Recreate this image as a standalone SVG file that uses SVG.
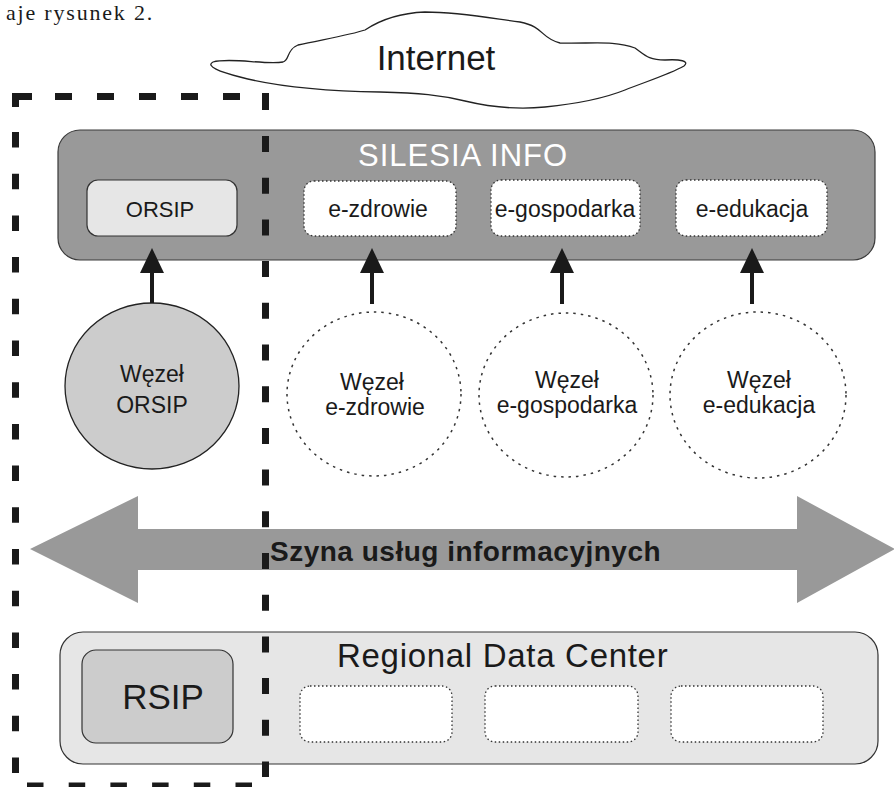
<svg xmlns="http://www.w3.org/2000/svg" width="894" height="787" viewBox="0 0 894 787">
<style>
text{font-family:"Liberation Sans",Arial,sans-serif;fill:#1a1a1a}
.dot{fill:#fff;stroke:#333;stroke-width:1.3;stroke-dasharray:1.5 2.5}
.dcirc{fill:#fff;stroke:#333;stroke-width:1.5;stroke-dasharray:2.5 5}
.frame{stroke:#1a1a1a;stroke-width:7;fill:none}
.conn{stroke:#1a1a1a;stroke-width:4;fill:none}
.lbl{font-size:23px;text-anchor:middle}
.node{font-size:23px;text-anchor:middle}
</style>
<defs>
<marker id="ah" viewBox="0 0 25 24" refX="21" refY="12" markerWidth="25" markerHeight="24" markerUnits="userSpaceOnUse" orient="auto">
<path d="M0,0 L25,12 L0,24 Z" fill="#1a1a1a"/>
</marker>
</defs>
<rect width="894" height="787" fill="#fff"/>
<text x="6" y="20" style="font-family:'Liberation Serif','Times New Roman',serif;font-size:22px;letter-spacing:1.8px">aje rysunek 2.</text>

<g id="internet">
<path d="M213,62 C230,57 265,65 283,62 C290,60 286,50 298,45 C320,40 350,35 365,30 C380,20 400,13 425,12 C460,12 490,18 520,22 C545,27 540,38 560,43 C590,44 615,40 635,48 C645,55 648,60 665,60 C680,59 690,61 684,66 C670,74 645,82 625,90 C605,98 575,104 545,107 C515,110 490,107 465,101 C440,95 420,93 380,92 C320,91 270,85 240,77 C220,72 205,66 213,62 Z" fill="#fff" stroke="#222" stroke-width="1.3"/>
<text x="436" y="70" style="font-size:35px;text-anchor:middle">Internet</text>
</g>

<g id="silesia-info">
<rect x="58" y="130" width="817" height="130" rx="22" fill="#999" stroke="#3a3a3a" stroke-width="1.2"/>
<text x="358" y="166" style="font-size:31px;letter-spacing:1px;fill:#fff">SILESIA INFO</text>
</g>
<g id="orsip">
<rect x="87" y="180" width="150" height="56" rx="11" fill="#e6e6e6" stroke="#333" stroke-width="1.2"/>
<text x="160" y="217" style="font-size:22px;text-anchor:middle">ORSIP</text>
</g>
<g id="e-zdrowie">
<rect class="dot" x="304" y="181" width="152" height="55" rx="10"/>
<text class="lbl" x="378" y="217">e-zdrowie</text>
</g>
<g id="e-gospodarka">
<rect class="dot" x="491" y="180" width="149" height="56" rx="10"/>
<text class="lbl" x="565" y="217">e-gospodarka</text>
</g>
<g id="e-edukacja">
<rect class="dot" x="676" y="180" width="151" height="56" rx="10"/>
<text class="lbl" x="752" y="217">e-edukacja</text>
</g>

<g id="wezel-orsip">
<ellipse cx="152" cy="386" rx="87" ry="83" fill="#ccc" stroke="#222" stroke-width="1.3"/>
<text class="node" x="152" y="382">Węzeł</text>
<text class="node" x="152" y="413">ORSIP</text>
</g>
<g id="wezel-e-zdrowie">
<ellipse class="dcirc" cx="374" cy="394" rx="87" ry="82"/>
<text class="node" x="372" y="390">Węzeł</text>
<text class="node" x="375" y="415">e-zdrowie</text>
</g>
<g id="wezel-e-gospodarka">
<ellipse class="dcirc" cx="566" cy="395" rx="87" ry="82"/>
<text class="node" x="567" y="388">Węzeł</text>
<text class="node" x="567" y="413">e-gospodarka</text>
</g>
<g id="wezel-e-edukacja">
<ellipse class="dcirc" cx="758" cy="395" rx="88" ry="83"/>
<text class="node" x="759" y="388">Węzeł</text>
<text class="node" x="759" y="413">e-edukacja</text>
</g>

<g id="connectors">
<line class="conn" x1="152" y1="303" x2="152" y2="252" marker-end="url(#ah)"/>
<line class="conn" x1="372" y1="304" x2="372" y2="252" marker-end="url(#ah)"/>
<line class="conn" x1="562" y1="304" x2="562" y2="252" marker-end="url(#ah)"/>
<line class="conn" x1="752" y1="304" x2="752" y2="252" marker-end="url(#ah)"/>
</g>

<g id="bus">
<polygon points="30,549 138,496 138,529 797,529 797,496 895,549 797,603 797,570 138,570 138,603" fill="#999"/>
<text x="270" y="561" style="font-size:28px;font-weight:bold;letter-spacing:0.5px">Szyna usług informacyjnych</text>
</g>

<g id="regional-data-center">
<rect x="60" y="632" width="818" height="132" rx="23" fill="#e6e6e6" stroke="#333" stroke-width="1.2"/>
<text x="337" y="667" style="font-size:33px;letter-spacing:0.7px">Regional Data Center</text>
<rect class="dot" x="300" y="686" width="152" height="56" rx="10"/>
<rect class="dot" x="485" y="686" width="153" height="56" rx="10"/>
<rect class="dot" x="671" y="686" width="152" height="56" rx="10"/>
</g>
<g id="rsip">
<rect x="82" y="650" width="151" height="93" rx="14" fill="#ccc" stroke="#333" stroke-width="1.2"/>
<text x="163" y="709" style="font-size:35px;text-anchor:middle">RSIP</text>
</g>

<g id="orsip-boundary">
<path d="M12,96.5 H32 M15.5,93 V107" class="frame"/>
<line class="frame" x1="55" y1="96.5" x2="241" y2="96.5" stroke-dasharray="17 25"/>
<line class="frame" x1="265.5" y1="93" x2="265.5" y2="110"/>
<line class="frame" x1="15.5" y1="132" x2="15.5" y2="773" stroke-dasharray="15.5 26.2"/>
<line class="frame" x1="265.5" y1="136" x2="265.5" y2="777" stroke-dasharray="16 25.7"/>
<line class="frame" x1="27" y1="786" x2="252" y2="786" stroke-width="8" stroke-dasharray="16.5 25.2"/>
</g>
</svg>
